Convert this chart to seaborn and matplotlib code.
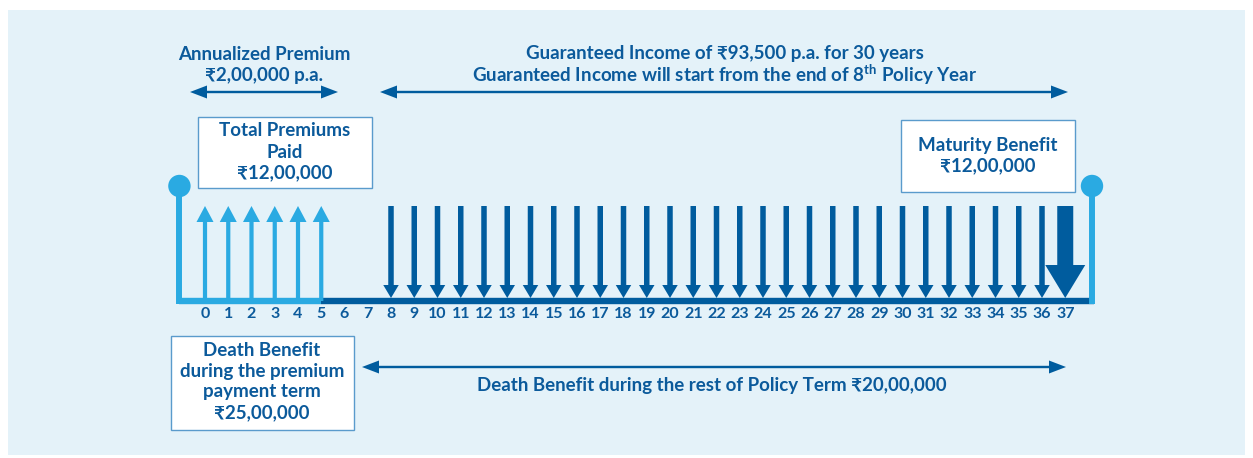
import numpy as np
import matplotlib
matplotlib.use("Agg")
import matplotlib.pyplot as plt
from matplotlib.patches import Rectangle
import seaborn as sns

sns.set_style("white")
plt.rcParams['font.family'] = ['Lato', 'DejaVu Sans']
plt.rcParams['mathtext.fontset'] = 'custom'
plt.rcParams['mathtext.rm'] = 'Lato:bold'

# data
years = list(range(0, 38))
premium_years = [0, 1, 2, 3, 4, 5]
income_years = list(range(8, 37))
maturity_years = [37]
policy_start, policy_end = -1.1, 38.15
premium_label = ["Annualized Premium", "₹2,00,000 p.a."]
income_label = ["Guaranteed Income of ₹93,500 p.a. for 30 years",
                r"Guaranteed Income will start from the end of 8$^{\rm th}$ Policy Year"]
total_paid_label = ["Total Premiums", "Paid", "₹12,00,000"]
maturity_label = ["Maturity Benefit", "₹12,00,000"]
death_ppt_label = ["Death Benefit", "during the premium", "payment term", "₹25,00,000"]
death_rest_label = "Death Benefit during the rest of Policy Term ₹20,00,000"

LIGHT = "#2aaae2"
DARK = "#005c9e"
TEXT = "#0b5a9b"
BG = "#e4f2f9"
EDGE = "#5a9bcc"

W, H = 1253, 458
X0, STEP = 205.0, 23.25          # pixel of year 0, pixels per year


def px(x):
    # pixel x -> year units on the axis
    return (x - X0) / STEP


fig = plt.figure(figsize=(W / 100, H / 100), dpi=100)
fig.patch.set_facecolor("white")
ax = fig.add_axes([0, 0, 1, 1])
ax.set_xlim(px(0), px(W))
ax.set_ylim(H, 0)
ax.axis("off")

ax.add_patch(Rectangle((8 / W, 3 / H), 1237 / W, 445 / H, transform=ax.transAxes,
                       facecolor=BG, edgecolor="none", zorder=0))

base_y = 301
# baseline
ax.plot([policy_start, premium_years[-1]], [base_y, base_y], color=LIGHT, lw=4.6,
        solid_capstyle="butt", zorder=3)
ax.plot([premium_years[-1], policy_end + 0.1], [base_y, base_y], color=DARK, lw=4.6,
        solid_capstyle="butt", zorder=3)
# stems with dots
for xs in [policy_start, policy_end]:
    ax.plot([xs, xs], [base_y + 3, 186], color=LIGHT, lw=4.3, solid_capstyle="butt", zorder=3)
sns.scatterplot(x=[policy_start, policy_end], y=[186, 186], color=LIGHT, s=260,
                edgecolor="none", ax=ax, zorder=4, legend=False)

# premium arrows (up)
for yr in premium_years:
    ax.arrow(yr, base_y, 0, 206 - base_y, width=4.2 / STEP, head_width=17 / STEP,
             head_length=16, length_includes_head=True, color=LIGHT, lw=0, zorder=3)
# income arrows (down)
for yr in income_years:
    ax.arrow(yr, 206, 0, 298 - 206, width=5.5 / STEP, head_width=15.5 / STEP,
             head_length=13, length_includes_head=True, color=DARK, lw=0, zorder=3)
for yr in maturity_years:
    ax.arrow(yr, 206, 0, 298 - 206, width=16 / STEP, head_width=40 / STEP,
             head_length=33, length_includes_head=True, color=DARK, lw=0, zorder=3)

# year labels
for yr in years:
    ax.text(yr, 314, str(yr), ha="center", va="center", fontsize=11.5,
            fontweight="bold", color=TEXT)


def harrow(x1, x2, y):
    kw = dict(width=2.4, head_width=13, head_length=17 / STEP, length_includes_head=True,
              color=DARK, lw=0, zorder=3)
    mid = (x1 + x2) / 2
    ax.arrow(mid, y, x1 - mid, 0, **kw)
    ax.arrow(mid, y, x2 - mid, 0, **kw)


def lines(lbls, xc, ys, fs=13.5):
    for t, yy in zip(lbls, ys):
        ax.text(xc, yy, t, ha="center", va="center", fontsize=fs, fontweight="bold",
                color=TEXT)


def box(x1, x2, y1, y2):
    ax.add_patch(Rectangle((px(x1), y1), px(x2) - px(x1), y2 - y1, facecolor="white",
                           edgecolor=EDGE, lw=1.0, zorder=2))


# top annotations
lines(premium_label, px(264), [54, 75])
harrow(px(190), px(338), 92)
lines(income_label, px(725), [54, 75])
harrow(px(380), px(1068), 92)

box(198, 372, 117, 188)
lines(total_paid_label, px(285), [131, 152, 173])
box(901, 1075, 120, 192)
lines(maturity_label, px(988), [145, 166])

box(171, 354, 336, 430)
lines(death_ppt_label, px(262), [350, 371, 392, 413])
harrow(px(362), px(1066), 367)
lines([death_rest_label], px(712), [385])

fig.savefig("out.png", dpi=100)
